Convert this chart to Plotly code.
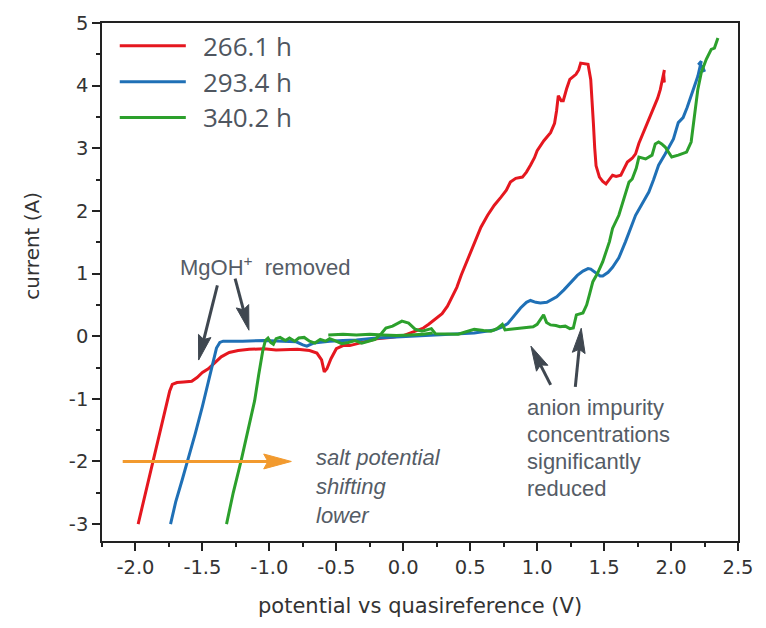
import plotly.graph_objects as go

# ---- series data: potential (V) vs current (A) ----
series_names = ["266.1 h", "293.4 h", "340.2 h"]
series_colors = ["#e5171f", "#1f70b6", "#2ca02c"]

red_x = [-1.98, -1.93, -1.88, -1.83, -1.78, -1.745, -1.725, -1.69, -1.64, -1.58, -1.54, -1.50,
         -1.456, -1.41, -1.36, -1.30, -1.233, -1.15, -1.04, -0.95, -0.85, -0.79, -0.70, -0.645,
         -0.61, -0.59, -0.57, -0.54, -0.50, -0.45, -0.40, -0.35, -0.30, -0.20, -0.10, 0.0, 0.09,
         0.15, 0.19, 0.24, 0.29, 0.33, 0.36, 0.40, 0.434, 0.48, 0.53, 0.58, 0.63, 0.68, 0.73,
         0.77, 0.80, 0.84, 0.89, 0.92, 0.95, 0.98, 1.0, 1.05, 1.10, 1.13, 1.145, 1.158, 1.18,
         1.195, 1.22, 1.244, 1.29, 1.31, 1.325, 1.38, 1.40, 1.41, 1.42, 1.43, 1.44, 1.465, 1.49,
         1.514, 1.54, 1.563, 1.59, 1.625, 1.65, 1.674, 1.71, 1.735, 1.76, 1.80, 1.834, 1.86,
         1.882, 1.90, 1.92, 1.935, 1.944, 1.95, 1.943, 1.95, 1.945]
red_y = [-3.0, -2.55, -2.05, -1.6, -1.2, -0.88, -0.77, -0.74, -0.73, -0.72, -0.66, -0.58,
         -0.52, -0.43, -0.33, -0.26, -0.23, -0.21, -0.20, -0.22, -0.21, -0.21, -0.23, -0.27,
         -0.38, -0.57, -0.52, -0.36, -0.20, -0.15, -0.15, -0.12, -0.09, -0.04, -0.02, 0.01, 0.08,
         0.13, 0.19, 0.27, 0.36, 0.48, 0.61, 0.78, 0.98, 1.22, 1.51, 1.74, 1.93, 2.09, 2.22,
         2.33, 2.46, 2.52, 2.54, 2.62, 2.73, 2.85, 2.96, 3.12, 3.25, 3.40, 3.60, 3.84, 3.76,
         3.76, 3.95, 4.10, 4.18, 4.25, 4.36, 4.34, 4.10, 3.80, 3.40, 3.00, 2.72, 2.54, 2.47,
         2.43, 2.50, 2.57, 2.55, 2.57, 2.68, 2.78, 2.84, 2.91, 3.08, 3.28, 3.46, 3.58,
         3.68, 3.80, 3.94, 4.10, 4.21, 4.25, 4.15, 4.05, 4.18]

blue_x = [-1.738, -1.70, -1.652, -1.60, -1.554, -1.50, -1.456, -1.42, -1.395, -1.37, -1.345,
          -1.2, -1.04, -0.90, -0.80, -0.75, -0.72, -0.67, -0.55, -0.45, -0.35, -0.20, 0.0, 0.29,
          0.53, 0.68, 0.74, 0.78, 0.83, 0.876, 0.92, 0.95, 0.99, 1.024, 1.072, 1.11, 1.146, 1.20,
          1.244, 1.30, 1.342, 1.38, 1.40, 1.44, 1.47, 1.49, 1.53, 1.563, 1.61, 1.66, 1.70, 1.735,
          1.78, 1.834, 1.87, 1.907, 1.956, 2.018, 2.054, 2.09, 2.12, 2.15, 2.18, 2.20, 2.226,
          2.21, 2.24, 2.25, 2.23]
blue_y = [-3.0, -2.65, -2.30, -1.92, -1.56, -1.12, -0.71, -0.40, -0.19, -0.10, -0.08,
          -0.08, -0.07, -0.08, -0.09, -0.14, -0.16, -0.11, -0.08, -0.07, -0.06, -0.03, -0.01, 0.02,
          0.05, 0.10, 0.15, 0.20, 0.33, 0.45, 0.54, 0.57, 0.54, 0.53, 0.54, 0.58, 0.63, 0.74,
          0.84, 0.97, 1.04, 1.08, 1.07, 1.00, 0.96, 0.96, 1.02, 1.10, 1.25, 1.51, 1.72, 1.93,
          2.10, 2.30, 2.50, 2.73, 2.91, 3.15, 3.41, 3.49, 3.65, 3.84, 4.00, 4.15, 4.39,
          4.35, 4.28, 4.22, 4.32]

# the 340.2 h sweep has a short second, overlapping strand (after the None break)
green_x = [-1.32, -1.27, -1.21, -1.16, -1.11, -1.08, -1.05, -1.03, -1.01, -0.99, -0.97, -0.95,
           -0.92, -0.88, -0.85, -0.81, -0.78, -0.74, -0.70, -0.66, -0.62, -0.58, -0.55, -0.51,
           -0.46, -0.41, -0.36, -0.31, -0.26, -0.21, -0.16, -0.13, -0.08, -0.04, -0.01, 0.04,
           0.09, 0.14, 0.18, 0.21, 0.24, 0.32, 0.41, 0.47, 0.53, 0.60, 0.655, 0.70, 0.74, 0.76,
           0.80, 0.85, 0.925, 0.97, 1.0, 1.03, 1.048, 1.07, 1.10, 1.14, 1.17, 1.21, 1.244, 1.27,
           1.293, 1.342, 1.37, 1.39, 1.416, 1.45, 1.49, 1.54, 1.563, 1.61, 1.65, 1.686, 1.71,
           1.74, 1.76, 1.81, 1.858, 1.882, 1.907, 1.93, 1.956, 1.98, 2.005, 2.054, 2.116, 2.15,
           2.177, 2.20, 2.226, 2.263, 2.30, 2.324, 2.35,
           None,
           -0.56, -0.45, -0.35, -0.25, -0.15, -0.05, 0.05, 0.15, 0.22]
green_y = [-3.0, -2.5, -1.98, -1.5, -1.03, -0.62, -0.24, -0.07, -0.03, -0.10, -0.13, -0.04,
           -0.02, -0.07, -0.03, -0.08, -0.03, -0.02, -0.08, -0.11, -0.05, -0.08, -0.04, -0.07,
           -0.12, -0.10, -0.07, -0.11, -0.08, -0.05, 0.05, 0.13, 0.16, 0.20, 0.24, 0.21,
           0.11, 0.08, 0.10, 0.12, 0.04, 0.03, 0.03, 0.07, 0.11, 0.09, 0.08, 0.12, 0.19, 0.10,
           0.11, 0.13, 0.14, 0.15, 0.19, 0.28, 0.34, 0.22, 0.18, 0.17, 0.15, 0.16, 0.12, 0.13,
           0.34, 0.37, 0.50, 0.66, 0.87, 1.00, 1.19, 1.51, 1.72, 1.93, 2.20, 2.46, 2.51,
           2.68, 2.86, 2.83, 2.89, 3.07, 3.10, 3.07, 3.02, 2.93, 2.86, 2.89, 2.94, 3.10,
           3.52, 3.94, 4.21, 4.42, 4.58, 4.60, 4.76,
           None,
           0.02, 0.03, 0.02, 0.03, 0.02, 0.01, 0.02, 0.03, 0.05]

xs = [red_x, blue_x, green_x]
ys = [red_y, blue_y, green_y]

# ---- tick labels (plain hyphen minus) ----
x_tick_vals = [-2.0, -1.5, -1.0, -0.5, 0.0, 0.5, 1.0, 1.5, 2.0, 2.5]
x_tick_text = ["-2.0", "-1.5", "-1.0", "-0.5", "0.0", "0.5", "1.0", "1.5", "2.0", "2.5"]
y_tick_vals = [-3, -2, -1, 0, 1, 2, 3, 4, 5]
y_tick_text = ["-3", "-2", "-1", "0", "1", "2", "3", "4", "5"]

# ---- plot-area geometry (pixels) ----
W_FIG, H_FIG = 766, 628
M_L, M_R, M_T, M_B = 102, 19, 20, 87
PLOT_W = W_FIG - M_L - M_R
PLOT_H = H_FIG - M_T - M_B
PLOT_BOTTOM = M_T + PLOT_H


def paper(px, py):
    """pixel position on the page -> paper coordinates"""
    return (px - M_L) / PLOT_W, (PLOT_BOTTOM - py) / PLOT_H


fig = go.Figure()
for name, color, x, y in zip(series_names, series_colors, xs, ys):
    fig.add_trace(go.Scatter(x=x, y=y, mode="lines", name=name,
                             line=dict(color=color, width=3), connectgaps=False,
                             showlegend=False, hoverinfo="skip"))

shapes = []
annotations = []

# ---- hand-drawn legend (long line samples) ----
legend_rows = [43, 79, 115]
for name, color, ry in zip(series_names, series_colors, legend_rows):
    x0, y0 = paper(120, ry)
    x1, _ = paper(187, ry)
    shapes.append(dict(type="line", xref="paper", yref="paper", x0=x0, y0=y0, x1=x1, y1=y0,
                       line=dict(color=color, width=3)))
    tx, ty = paper(202, ry)
    annotations.append(dict(xref="paper", yref="paper", x=tx, y=ty, text=name,
                            showarrow=False, xanchor="left", yanchor="middle",
                            font=dict(family="Open Sans", size=26, color="#4f5660")))


def arrow(tail, tip, color, width, head_len, head_w):
    """shaft line plus a notched triangular head, all in page pixels"""
    (tx, ty), (hx, hy) = tail, tip
    dx, dy = hx - tx, hy - ty
    n = (dx * dx + dy * dy) ** 0.5
    ux, uy = dx / n, dy / n
    px_, py_ = -uy, ux
    bx, by = hx - ux * head_len, hy - uy * head_len
    sx, sy = hx - ux * head_len * 0.8, hy - uy * head_len * 0.8
    a = paper(tx, ty)
    b = paper(sx, sy)
    shapes.append(dict(type="line", xref="paper", yref="paper", x0=a[0], y0=a[1],
                       x1=b[0], y1=b[1], line=dict(color=color, width=width)))
    pts = [(hx, hy),
           (bx + px_ * head_w / 2, by + py_ * head_w / 2),
           (hx - ux * head_len * 0.85, hy - uy * head_len * 0.85),
           (bx - px_ * head_w / 2, by - py_ * head_w / 2)]
    pp = [paper(*p) for p in pts]
    path = "M" + " L".join(f"{p[0]:.5f},{p[1]:.5f}" for p in pp) + " Z"
    shapes.append(dict(type="path", xref="paper", yref="paper", path=path,
                       fillcolor=color, line=dict(color=color, width=1)))


ARROW_DARK = "#3f4750"
arrow((219, 284), (200, 359), ARROW_DARK, 3, 25, 13)
arrow((237, 277), (251, 329), ARROW_DARK, 3, 25, 13)
arrow((557, 384), (537, 345), ARROW_DARK, 3, 25, 13)
arrow((582, 386), (588, 327), ARROW_DARK, 3, 25, 13)
arrow((123, 461), (294, 461), "#f29a2e", 3, 28, 15)

TEXT_GRAY = "#555c66"


def label(px, py, text, anchor="left", italic=False, size=22):
    x, y = paper(px, py)
    annotations.append(dict(xref="paper", yref="paper", x=x, y=y, text=text,
                            showarrow=False, xanchor=anchor, yanchor="middle",
                            font=dict(family="Liberation Sans", size=size, color=TEXT_GRAY,
                                      style="italic" if italic else "normal")))


label(267, 264, "MgOH<sup>+</sup>  removed", anchor="center")
for py, t in zip([407, 434, 461, 488],
                 ["anion impurity", "concentrations", "significantly", "reduced"]):
    label(531, py, t)
for py, t in zip([457, 486, 515], ["salt potential", "shifting", "lower"]):
    label(317, py, t, italic=True)

# ---- axis titles ----
x_t = paper(424, 606)
annotations.append(dict(xref="paper", yref="paper", x=x_t[0], y=x_t[1],
                        text="potential vs quasireference (V)", showarrow=False,
                        xanchor="center", yanchor="middle",
                        font=dict(family="DejaVu Sans", size=21, color="#333333")))
y_t = paper(31, 244)
annotations.append(dict(xref="paper", yref="paper", x=y_t[0], y=y_t[1],
                        text="current (A)", showarrow=False, textangle=-90,
                        xanchor="center", yanchor="middle",
                        font=dict(family="DejaVu Sans", size=20, color="#333333")))

axis_common = dict(showline=True, mirror=True, linecolor="#222222", linewidth=1.6,
                   showgrid=False, zeroline=False, ticks="outside", ticklen=8,
                   tickwidth=1.5, tickcolor="#222222", tickmode="array",
                   tickfont=dict(family="DejaVu Sans", size=19.5, color="#333333"))

fig.update_layout(
    width=W_FIG, height=H_FIG,
    margin=dict(l=M_L, r=M_R, t=M_T, b=M_B),
    paper_bgcolor="white", plot_bgcolor="white",
    xaxis=dict(range=[-2.25, 2.5], tickvals=x_tick_vals, ticktext=x_tick_text,
               minor=dict(ticks="outside", tickmode="linear", tick0=0, dtick=0.25,
                          ticklen=4, tickwidth=1.5, tickcolor="#222222"),
               **axis_common),
    yaxis=dict(range=[-3.27, 5], tickvals=y_tick_vals, ticktext=y_tick_text,
               minor=dict(ticks="outside", tickmode="linear", tick0=0, dtick=0.5,
                          ticklen=4, tickwidth=1.5, tickcolor="#222222"),
               **axis_common),
    shapes=shapes,
    annotations=annotations,
    showlegend=False,
)

fig.write_html("out.html")
